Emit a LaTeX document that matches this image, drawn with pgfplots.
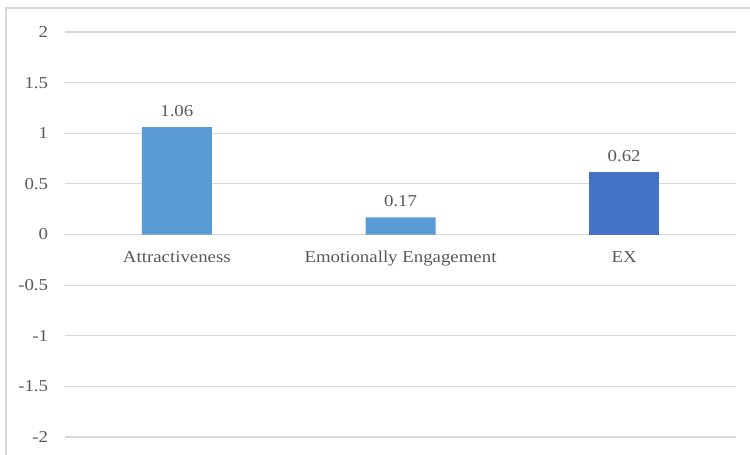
\documentclass[border=0pt]{standalone}
\usepackage{fontspec}
\setmainfont[FakeStretch=1.13]{Liberation Serif}
\usepackage{pgfplots}
\pgfplotsset{compat=1.18}
\definecolor{lightbar}{HTML}{5B9BD5}
\definecolor{darkbar}{HTML}{4472C4}
\definecolor{gridgray}{HTML}{D9D9D9}
\definecolor{textgray}{HTML}{595959}

\begin{document}
\begin{tikzpicture}
\useasboundingbox (0,0) rectangle (562.5pt,340.5pt);
\fill[white] (0,0) rectangle (562.5pt,340.5pt);
% outer frame (left and top edges visible)
\draw[gridgray, line width=1.1pt] (4.5pt,-2pt) -- (4.5pt,334.5pt) -- (566pt,334.5pt);
\begin{axis}[
  at={(48.75pt,12.75pt)}, anchor=south west,
  scale only axis,
  width=503.25pt, height=303.75pt,
  xmin=-0.5, xmax=2.5,
  ymin=-2, ymax=2,
  ytick={-2,-1.5,...,2},
  xtick=\empty,
  ymajorgrids,
  grid style={gridgray, line width=0.8pt},
  axis line style={draw=none},
  major tick style={draw=none},
  /pgf/number format/assume math mode=true,
  tick label style={font=\fontsize{12.5}{14}\selectfont, text=textgray},
  yticklabel style={inner sep=0pt, xshift=-12.5pt},
  ybar, bar width=52.5pt, bar shift=0pt,
  nodes near coords,
  nodes near coords style={font=\fontsize{12.5}{14}\selectfont, text=textgray, inner sep=0pt, anchor=south, yshift=7.5pt,
    /pgf/number format/.cd, fixed, fixed zerofill, precision=2, assume math mode=true},
  clip=false,
]
  \addplot[fill=lightbar, draw=none] coordinates {(0,1.06) (1,0.17)};
  \addplot[fill=darkbar, draw=none] coordinates {(2,0.62)};
  \begin{scope}[every node/.style={font=\fontsize{12.5}{14}\selectfont, text=textgray, inner sep=0pt, anchor=north, yshift=-12.5pt}]
    \node at (axis cs:0,0) {Attractiveness};
    \node at (axis cs:1,0) {Emotionally Engagement};
    \node at (axis cs:2,0) {EX};
  \end{scope}
\end{axis}
\end{tikzpicture}
\end{document}
